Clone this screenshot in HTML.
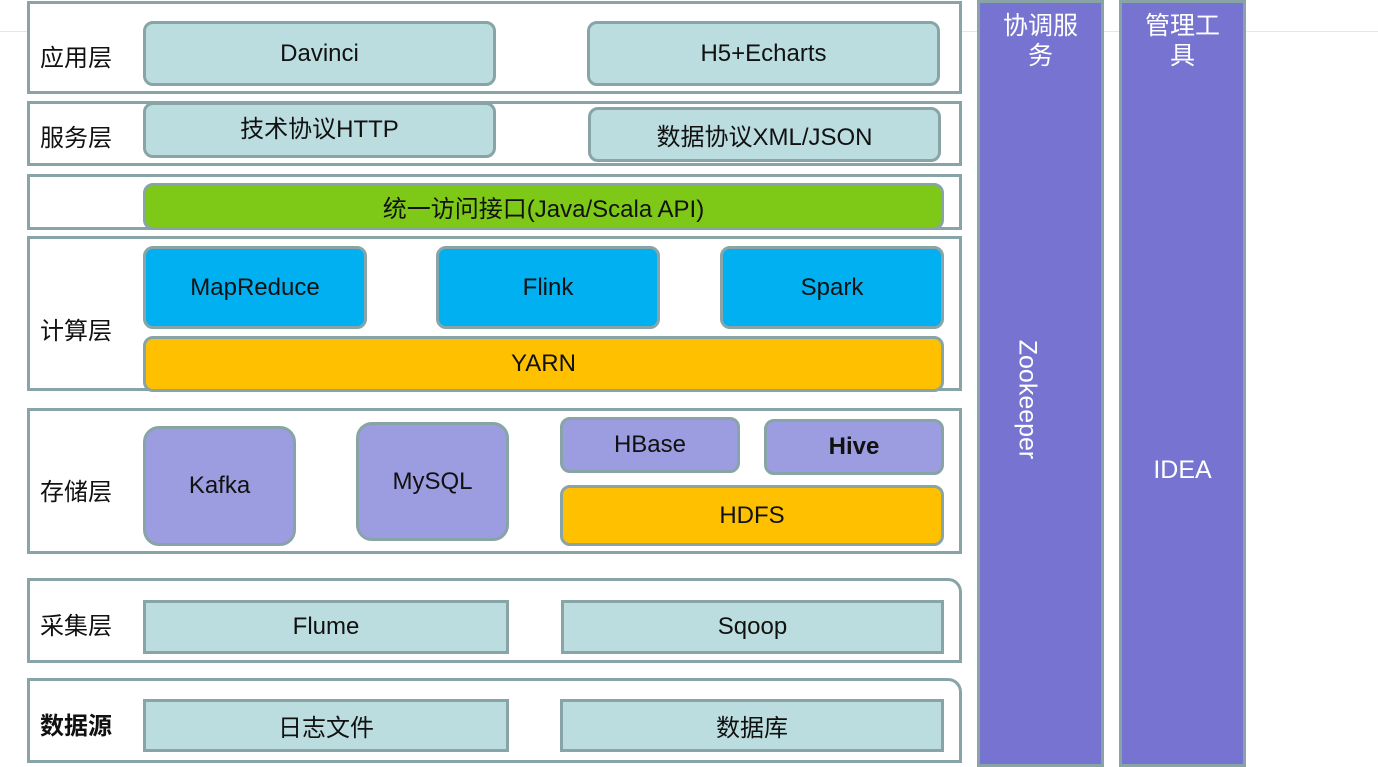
<!DOCTYPE html>
<html><head><meta charset="utf-8"><style>
body{margin:0;width:1378px;height:767px;background:#fff;position:relative;overflow:hidden;font-family:"Liberation Sans","Noto Sans CJK SC",sans-serif;}
div{position:absolute;box-sizing:border-box;}
.o{border:3px solid #88a4a6;background:#fff;}
.b{border:3px solid #88a4a6;border-radius:10px;display:flex;align-items:center;justify-content:center;font-size:24px;color:#111;}
.c{background:#bbdde0;}
.l{font-size:24px;color:#111;}
.p{background:#7674d0;border:3px solid #88a4a6;color:#fff;font-size:25px;text-align:center;line-height:30px;}
</style></head><body>
<div style="left:0;top:31px;width:1378px;height:1px;background:#e6e6e6"></div>
<div class="o" style="left:27px;top:1px;width:935px;height:93px"></div>
<div class="o" style="left:27px;top:101px;width:935px;height:65px"></div>
<div class="o" style="left:27px;top:174px;width:935px;height:56px"></div>
<div class="o" style="left:27px;top:236px;width:935px;height:155px"></div>
<div class="o" style="left:27px;top:408px;width:935px;height:146px"></div>
<div class="o" style="left:27px;top:578px;width:935px;height:85px;border-top-right-radius:14px"></div>
<div class="o" style="left:27px;top:678px;width:935px;height:85px;border-top-right-radius:14px"></div>

<div class="l" style="left:40px;top:38px">应用层</div>
<div class="l" style="left:40px;top:118px">服务层</div>
<div class="l" style="left:40px;top:311px">计算层</div>
<div class="l" style="left:40px;top:472px">存储层</div>
<div class="l" style="left:40px;top:606px">采集层</div>
<div class="l" style="left:40px;top:706px;font-weight:bold">数据源</div>

<div class="b c" style="left:143px;top:21px;width:353px;height:65px">Davinci</div>
<div class="b c" style="left:587px;top:21px;width:353px;height:65px">H5+Echarts</div>
<div class="b c" style="left:143px;top:102px;width:353px;height:56px;padding-bottom:8px">技术协议HTTP</div>
<div class="b c" style="left:588px;top:107px;width:353px;height:55px">数据协议XML/JSON</div>
<div class="b" style="left:143px;top:183px;width:801px;height:47px;background:#7ec918">统一访问接口(Java/Scala API)</div>
<div class="b" style="left:143px;top:246px;width:224px;height:83px;background:#00b0f0">MapReduce</div>
<div class="b" style="left:436px;top:246px;width:224px;height:83px;background:#00b0f0">Flink</div>
<div class="b" style="left:720px;top:246px;width:224px;height:83px;background:#00b0f0">Spark</div>
<div class="b" style="left:143px;top:336px;width:801px;height:56px;background:#ffc000">YARN</div>
<div class="b" style="left:143px;top:426px;width:153px;height:120px;background:#9c9ce0;border-radius:16px">Kafka</div>
<div class="b" style="left:356px;top:422px;width:153px;height:119px;background:#9c9ce0;border-radius:16px">MySQL</div>
<div class="b" style="left:560px;top:417px;width:180px;height:56px;background:#9c9ce0">HBase</div>
<div class="b" style="left:764px;top:419px;width:180px;height:56px;background:#9c9ce0;font-weight:bold">Hive</div>
<div class="b" style="left:560px;top:485px;width:384px;height:61px;background:#ffc000">HDFS</div>
<div class="b c" style="left:143px;top:600px;width:366px;height:54px;border-radius:0">Flume</div>
<div class="b c" style="left:561px;top:600px;width:383px;height:54px;border-radius:0">Sqoop</div>
<div class="b c" style="left:143px;top:699px;width:366px;height:53px;border-radius:0">日志文件</div>
<div class="b c" style="left:560px;top:699px;width:384px;height:53px;border-radius:0">数据库</div>

<div class="p" style="left:977px;top:0;width:127px;height:767px;padding-top:8px">协调服<br>务</div>
<div style="left:1027px;top:400px;width:0;height:0"><div style="left:-80px;top:-15px;width:160px;text-align:center;color:#fff;font-size:25px;transform:rotate(90deg)">Zookeeper</div></div>
<div class="p" style="left:1119px;top:0;width:127px;height:767px;padding-top:8px">管理工<br>具</div>
<div style="left:1122px;top:456px;width:121px;text-align:center;color:#fff;font-size:25px">IDEA</div>
</body></html>
